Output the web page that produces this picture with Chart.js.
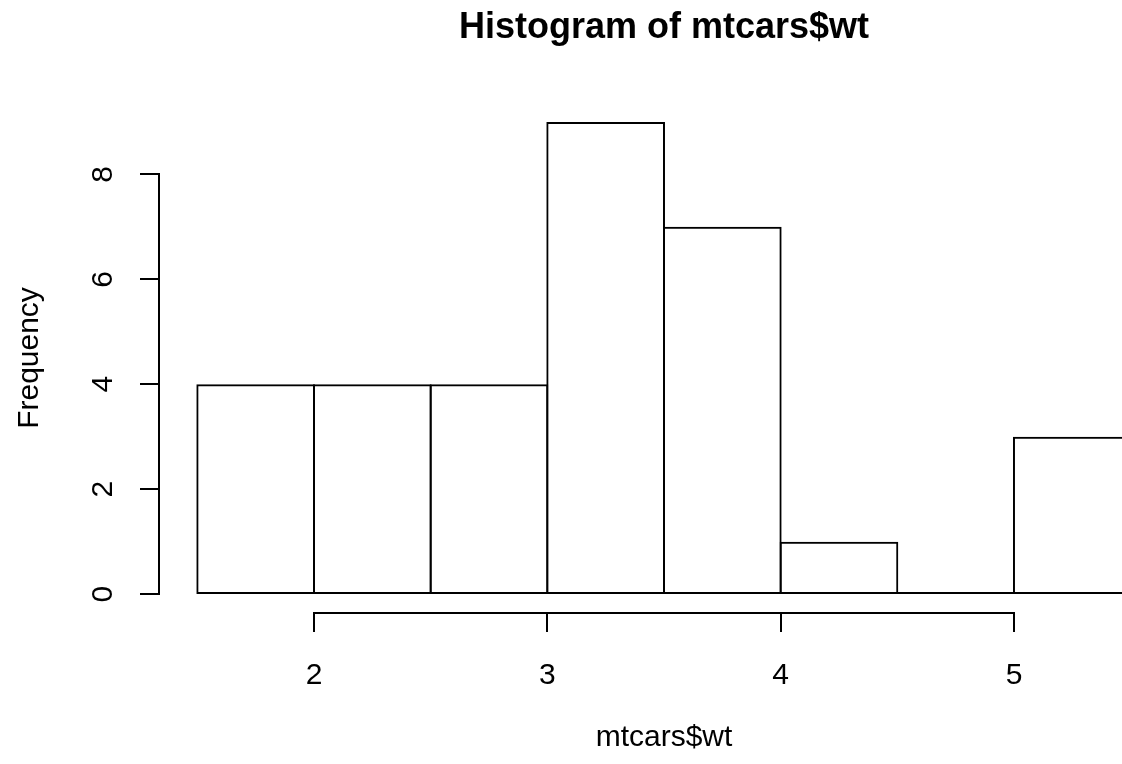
<!DOCTYPE html>
<html>
<head>
<meta charset="utf-8">
<script src="https://cdn.jsdelivr.net/npm/chart.js@4.4.0/dist/chart.umd.min.js"></script>
<style>
  html, body { margin: 0; padding: 0; background: #fff; overflow: hidden; }
  canvas { display: block; }
</style>
</head>
<body>
<canvas id="histChart" width="1122" height="764"></canvas>
<script>
// ======================
// Data
// ======================
const breaks = [1.5, 2, 2.5, 3, 3.5, 4, 4.5, 5, 5.5];
const counts = [4, 4, 4, 9, 7, 1, 0, 3];
const xTicks = [2, 3, 4, 5];
const yTicks = [0, 2, 4, 6, 8];
const mainTitle = "Histogram of mtcars$wt";
const xTitle = "mtcars$wt";
const yTitle = "Frequency";

const FONT = '"Liberation Sans", Arial, Helvetica, sans-serif';
const LW = 2;

// bar centres from the bin edges
const mids = counts.map((c, i) => (breaks[i] + breaks[i + 1]) / 2);

// ======================
// R style axes, drawn from the chart scales
// ======================
const rAxes = {
    id: "rAxes",
    afterDraw(chart) {
        const ctx = chart.ctx;
        const x = chart.scales.x;
        const y = chart.scales.y;
        const area = chart.chartArea;
        const tick = 19;

        ctx.save();
        ctx.strokeStyle = "#000";
        ctx.fillStyle = "#000";
        ctx.lineWidth = LW;

        // empty bins still leave a line on the base
        const y0 = y.getPixelForValue(0) - LW / 2;
        counts.forEach((c, i) => {
            if (c === 0) {
                ctx.beginPath();
                ctx.moveTo(x.getPixelForValue(breaks[i]), y0);
                ctx.lineTo(x.getPixelForValue(breaks[i + 1]), y0);
                ctx.stroke();
            }
        });

        // x axis
        const xa = area.bottom;
        const xp = v => Math.round(x.getPixelForValue(v));
        ctx.beginPath();
        ctx.moveTo(xp(xTicks[0]) - 1, xa);
        ctx.lineTo(xp(xTicks[xTicks.length - 1]) + 1, xa);
        xTicks.forEach(v => {
            ctx.moveTo(xp(v), xa);
            ctx.lineTo(xp(v), xa + tick);
        });
        ctx.stroke();

        ctx.font = "30px " + FONT;
        ctx.textAlign = "center";
        ctx.textBaseline = "alphabetic";
        xTicks.forEach(v => {
            ctx.fillText(String(v), x.getPixelForValue(v), area.bottom + 71);
        });

        // y axis
        const ya = area.left - 1;
        const yp = v => Math.round(y.getPixelForValue(v));
        ctx.beginPath();
        ctx.moveTo(ya, yp(yTicks[0]) + 1);
        ctx.lineTo(ya, yp(yTicks[yTicks.length - 1]) - 1);
        yTicks.forEach(v => {
            ctx.moveTo(ya, yp(v));
            ctx.lineTo(ya - tick, yp(v));
        });
        ctx.stroke();

        yTicks.forEach(v => {
            ctx.save();
            ctx.translate(area.left - 48, y.getPixelForValue(v));
            ctx.rotate(-Math.PI / 2);
            ctx.fillText(String(v), 0, 0);
            ctx.restore();
        });

        // titles
        const cx = x.getPixelForValue((breaks[0] + breaks[breaks.length - 1]) / 2);
        ctx.fillText(xTitle, cx, area.bottom + 133);

        ctx.save();
        ctx.translate(38, (area.top + area.bottom) / 2);
        ctx.rotate(-Math.PI / 2);
        ctx.fillText(yTitle, 0, 0);
        ctx.restore();

        ctx.font = "bold 36px " + FONT;
        ctx.fillText(mainTitle, cx, 38);

        ctx.restore();
    }
};

// ======================
// Histogram
// ======================
new Chart(document.getElementById("histChart"), {
    type: "bar",
    data: {
        datasets: [{
            data: mids.map((m, i) => ({ x: m, y: counts[i] })),
            backgroundColor: "rgba(0,0,0,0)",
            borderColor: "#000",
            borderWidth: LW,
            borderSkipped: false,
            barPercentage: 1.0172,
            categoryPercentage: 1
        }]
    },
    options: {
        responsive: false,
        animation: false,
        events: [],
        layout: { padding: { left: 160, right: 0, top: 103, bottom: 151 } },
        plugins: {
            legend: { display: false },
            title: { display: false },
            tooltip: { enabled: false }
        },
        scales: {
            x: {
                type: "linear", min: 1.34, max: 5.463, offset: false, display: false,
                afterBuildTicks: s => { s.ticks = xTicks.map(v => ({ value: v })); }
            },
            y: {
                type: "linear", min: -0.36, max: 9.36, display: false,
                afterBuildTicks: s => { s.ticks = yTicks.map(v => ({ value: v })); }
            }
        }
    },
    plugins: [rAxes]
});
</script>
</body>
</html>
